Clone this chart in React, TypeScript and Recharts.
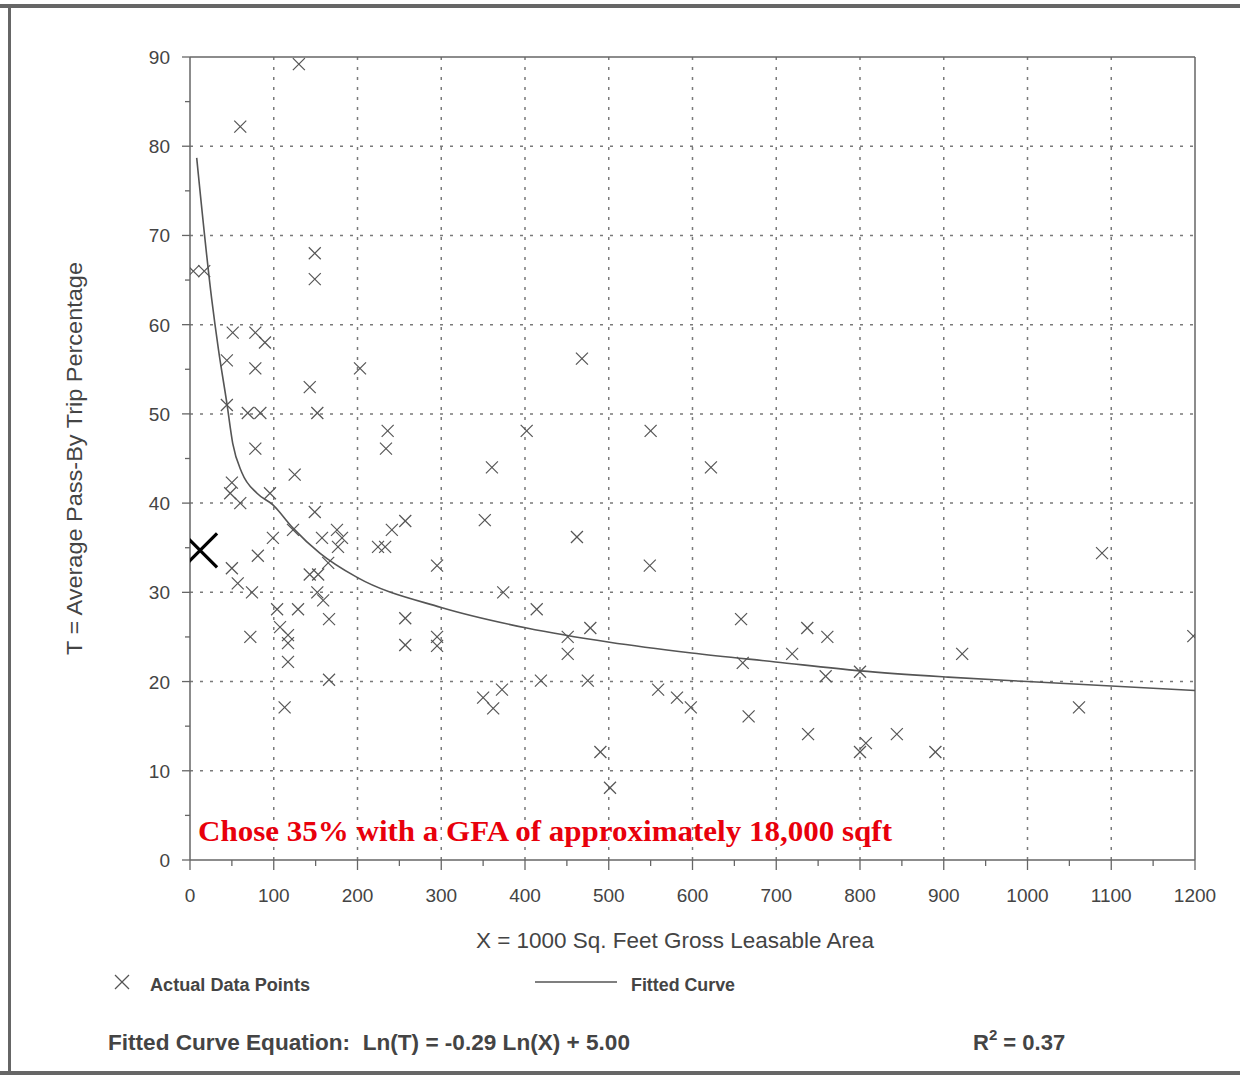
import React from 'react';
import { ComposedChart, Scatter, Line, XAxis, YAxis, ReferenceLine } from 'recharts';

// ---- data ----
const actualX = [
  130, 60, 4, 17, 149, 149, 51, 78, 89.5, 44, 78, 143, 203, 468, 44, 69, 84, 152, 236, 234, 78, 402, 550, 125, 360.5, 622,
  50, 48, 60, 95.5, 149, 123, 175.5, 157.6, 181.5, 176.7, 99, 81, 50, 57, 74, 224.5, 233, 241, 257, 352, 462, 165, 143, 153,
  152, 159, 166, 104, 129, 107.5, 117, 117, 117, 72, 166, 113, 257, 257, 295, 295, 295,
  374, 549, 414, 451, 451, 478, 419, 475, 350, 362, 372.5, 490, 501.5, 559,
  658, 737, 761, 719, 660, 759, 800, 581.5, 598, 667, 738, 807, 800, 844, 890,
  1089, 1198, 922, 1061.5,
];
const actualY = [
  89.2, 82.2, 66, 66, 68, 65.1, 59.1, 59.1, 58, 56, 55.1, 53, 55.1, 56.2, 51, 50.1, 50.1, 50.1, 48.1, 46.1, 46.1, 48.1, 48.1, 43.2, 44, 44,
  42.3, 41.1, 40, 41.1, 39, 37, 37, 36.1, 36.1, 35.1, 36.1, 34.1, 32.7, 31, 30, 35.1, 35.1, 37, 38, 38.1, 36.2, 33.3, 32, 32,
  30, 29.1, 27, 28.1, 28.1, 26.1, 25.2, 24.3, 22.2, 25, 20.2, 17.1, 27.1, 24.1, 33, 25, 24,
  30, 33, 28.1, 25, 23.1, 26, 20.1, 20.1, 18.2, 17, 19.1, 12.1, 8.1, 19.1,
  27, 26, 25, 23.1, 22.1, 20.6, 21.1, 18.2, 17.1, 16.1, 14.1, 13.1, 12.1, 14.1, 12.1,
  34.4, 25.1, 23.1, 17.1,
];
const curveX = [8, 26, 34, 44, 51, 62, 80, 99, 123, 155, 199, 300, 402, 501, 599, 699, 800, 905, 1000, 1200];
const curveY = [78.7, 62.8, 57.2, 51.2, 46.7, 43.4, 41.1, 39.8, 37.2, 34.4, 31.7, 28.3, 26.0, 24.4, 23.2, 22.2, 21.2, 20.5, 20.0, 19.0];
const chosenX = [12];
const chosenY = [34.7];

const xTicks = [0, 50, 100, 150, 200, 250, 300, 350, 400, 450, 500, 550, 600, 650, 700, 750, 800, 850, 900, 950, 1000, 1050, 1100, 1150, 1200];
const yTicks = [0, 5, 10, 15, 20, 25, 30, 35, 40, 45, 50, 55, 60, 65, 70, 75, 80, 85, 90];
const xGrid = [100, 200, 300, 400, 500, 600, 700, 800, 900, 1000, 1100];
const yGrid = [10, 20, 30, 40, 50, 60, 70, 80];

const actualData = actualX.map((x, i) => ({ x, y: actualY[i] }));
const curveData = curveX.map((x, i) => ({ x, y: curveY[i] }));
const chosenData = chosenX.map((x, i) => ({ x, y: chosenY[i] }));

const FONT = '"Liberation Sans Narrow", "Arial Narrow", "Liberation Sans", Arial, sans-serif';
const GRID = '#7a7a7a';
const AXIS = '#666';

const XMark = (props: any) => {
  const { cx, cy } = props;
  if (cx == null || cy == null) return null;
  const s = 6;
  return (
    <g stroke="#555" strokeWidth={1.2}>
      <line x1={cx - s} y1={cy - s} x2={cx + s} y2={cy + s} />
      <line x1={cx - s} y1={cy + s} x2={cx + s} y2={cy - s} />
    </g>
  );
};

const BigX = (props: any) => {
  const { cx, cy } = props;
  if (cx == null || cy == null) return null;
  const s = 17;
  return (
    <g stroke="#000" strokeWidth={3.2}>
      <line x1={cx - s} y1={cy - s} x2={cx + s} y2={cy + s} />
      <line x1={cx - s} y1={cy + s} x2={cx + s} y2={cy - s} />
    </g>
  );
};

const XTick = (props: any) => {
  const { x, y, payload } = props;
  const v = payload.value;
  const major = v % 100 === 0;
  return (
    <g>
      <line x1={x} y1={y} x2={x} y2={y + (major ? 10 : 6)} stroke={AXIS} strokeWidth={1.3} />
      {major && (
        <text x={x} y={y + 42} textAnchor="middle" fontFamily={FONT} fontSize={19} fill="#444">
          {v}
        </text>
      )}
    </g>
  );
};

const YTick = (props: any) => {
  const { x, y, payload } = props;
  const v = payload.value;
  const major = v % 10 === 0;
  return (
    <g>
      <line x1={x} y1={y} x2={x - (major ? 8 : 5)} y2={y} stroke={AXIS} strokeWidth={1.3} />
      {major && (
        <text x={x - 20} y={y + 7} textAnchor="end" fontFamily={FONT} fontSize={19} fill="#444">
          {v}
        </text>
      )}
    </g>
  );
};

export default function App() {
  return (
    <div style={{ position: 'relative', width: 1240, height: 1075, background: '#fff', overflow: 'hidden' }}>
      <style>{'body{margin:0;background:#fff}'}</style>
      <ComposedChart
        width={1240}
        height={1075}
        margin={{ top: 57, right: 45, left: 130, bottom: 155 }}
      >
        <XAxis
          type="number"
          dataKey="x"
          domain={[0, 1200]}
          ticks={xTicks}
          interval={0}
          allowDataOverflow
          tickLine={false}
          tickSize={0}
          tickMargin={0}
          height={60}
          axisLine={{ stroke: AXIS, strokeWidth: 1.5 }}
          tick={(p: any) => <XTick {...p} />}
        />
        <YAxis
          type="number"
          dataKey="y"
          domain={[0, 90]}
          ticks={yTicks}
          interval={0}
          allowDataOverflow
          tickLine={false}
          tickSize={0}
          tickMargin={0}
          width={60}
          axisLine={{ stroke: AXIS, strokeWidth: 1.5 }}
          tick={(p: any) => <YTick {...p} />}
        />
        {xGrid.map((v) => (
          <ReferenceLine key={'gx' + v} x={v} stroke={GRID} strokeWidth={1.5} strokeDasharray="3 7" />
        ))}
        {yGrid.map((v) => (
          <ReferenceLine key={'gy' + v} y={v} stroke={GRID} strokeWidth={1.5} strokeDasharray="3 7" />
        ))}
        <ReferenceLine y={90} stroke={AXIS} strokeWidth={1.5} />
        <ReferenceLine x={1200} stroke={AXIS} strokeWidth={1.5} />
        <Line
          data={curveData}
          dataKey="y"
          type="monotone"
          stroke="#555"
          strokeWidth={1.6}
          dot={false}
          isAnimationActive={false}
        />
        <Scatter data={actualData} dataKey="y" shape={XMark} isAnimationActive={false} />
        <Scatter data={chosenData} dataKey="y" shape={BigX} isAnimationActive={false} />
      </ComposedChart>

      <svg
        width={1240}
        height={1075}
        style={{ position: 'absolute', left: 0, top: 0, pointerEvents: 'none' }}
      >
        {/* scan frame */}
        <rect x={0} y={4} width={1240} height={4} fill="#666" />
        <rect x={8} y={4} width={3} height={1071} fill="#666" />
        <rect x={0} y={1071} width={1240} height={4} fill="#666" />

        <text
          x={198}
          y={841}
          fontFamily='"Liberation Serif", "Times New Roman", serif'
          fontWeight="bold"
          fontSize={29}
          fill="#e8000b"
          textLength={694}
          lengthAdjust="spacingAndGlyphs"
        >
          Chose 35% with a GFA of approximately 18,000 sqft
        </text>

        <text x={476} y={948} fontFamily={FONT} fontSize={22} fill="#444" textLength={398} lengthAdjust="spacingAndGlyphs">
          X = 1000 Sq. Feet Gross Leasable Area
        </text>
        <text
          x={0}
          y={0}
          transform="translate(82,655) rotate(-90)"
          fontFamily={FONT}
          fontSize={22}
          fill="#444"
          textLength={393}
          lengthAdjust="spacingAndGlyphs"
        >
          T = Average Pass-By Trip Percentage
        </text>

        <g stroke="#555" strokeWidth={1.3}>
          <line x1={115} y1={975} x2={129} y2={989} />
          <line x1={115} y1={989} x2={129} y2={975} />
        </g>
        <text x={150} y={991} fontFamily={FONT} fontWeight="bold" fontSize={18} fill="#444" textLength={160} lengthAdjust="spacingAndGlyphs">
          Actual Data Points
        </text>
        <line x1={535} y1={982} x2={617} y2={982} stroke="#555" strokeWidth={1.6} />
        <text x={631} y={991} fontFamily={FONT} fontWeight="bold" fontSize={18} fill="#444" textLength={104} lengthAdjust="spacingAndGlyphs">
          Fitted Curve
        </text>

        <text
          x={108}
          y={1050}
          fontFamily={FONT}
          fontWeight="bold"
          fontSize={22}
          fill="#444"
          xmlSpace="preserve"
          textLength={522}
          lengthAdjust="spacingAndGlyphs"
        >
          Fitted Curve Equation:  Ln(T) = -0.29 Ln(X) + 5.00
        </text>
        <text x={973} y={1050} fontFamily={FONT} fontWeight="bold" fontSize={22} fill="#444">
          R<tspan dy={-10} fontSize={15}>2</tspan>
          <tspan dy={10}> = 0.37</tspan>
        </text>
      </svg>
    </div>
  );
}
